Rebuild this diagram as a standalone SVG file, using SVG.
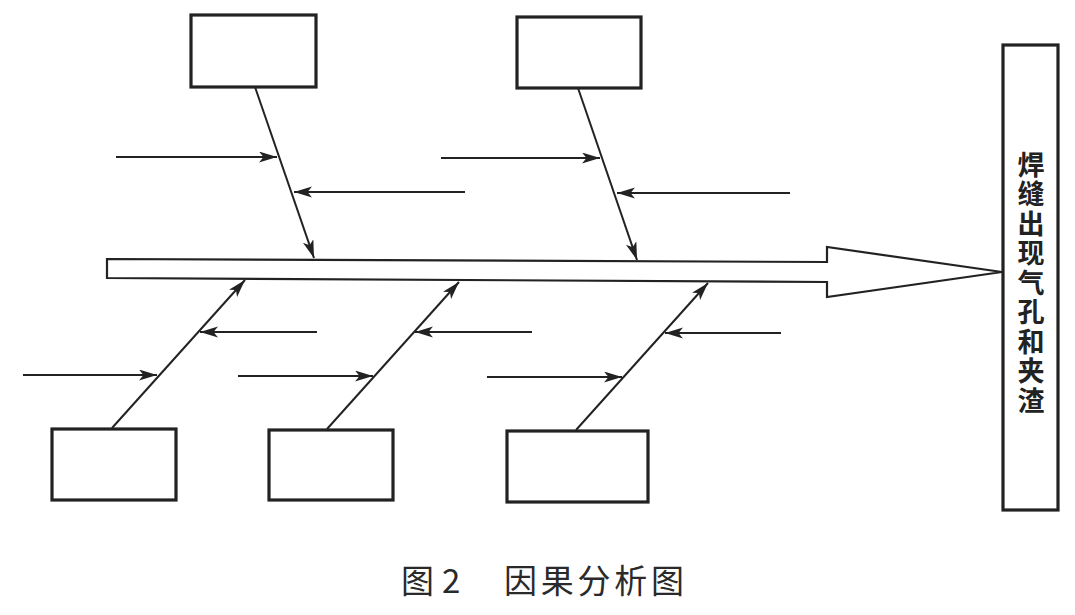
<svg xmlns="http://www.w3.org/2000/svg" width="1075" height="615" viewBox="0 0 1075 615">
<style>
.box{fill:#fff;stroke:#222;stroke-width:3.2}
.ln{stroke:#222;stroke-width:2;fill:none}
.big{fill:#fff;stroke:#222;stroke-width:2.2;stroke-linejoin:miter}
.vt{font-family:"Noto Sans CJK SC","Noto Sans CJK JP",sans-serif;font-size:27px;font-weight:600;fill:#222;writing-mode:vertical-rl;letter-spacing:2.5px}
.cap{font-family:"Noto Sans CJK SC","Liberation Serif",serif;font-size:33px;font-weight:400;fill:#2a2a2a}
</style>
<defs>
<marker id="ah" markerUnits="userSpaceOnUse" markerWidth="20" markerHeight="12" refX="18" refY="5.5" orient="auto">
<path d="M0,0 L18,5.5 L0,11 L4.5,5.5 z" fill="#222"/>
</marker>
</defs>
<rect width="1075" height="615" fill="#fff"/>
<g id="spine">
<polygon class="big" points="107,259 827,262 827,247 1002,272 827,297 827,282 107,278"/>
</g>
<g id="effect">
<rect class="box" x="1003" y="45" width="55" height="465"/>
<text class="vt" x="1031" y="151">焊缝出现气孔和夹渣</text>
</g>
<g id="cause1"><rect class="box" x="191" y="15" width="125" height="72"/></g>
<g id="cause2"><rect class="box" x="517" y="17" width="124" height="71"/></g>
<g id="cause3"><rect class="box" x="52" y="429" width="124" height="71"/></g>
<g id="cause4"><rect class="box" x="269" y="430" width="124" height="70"/></g>
<g id="cause5"><rect class="box" x="507" y="431" width="141" height="71"/></g>
<g id="connectors">
<line class="ln" x1="255" y1="87" x2="314" y2="258" marker-end="url(#ah)"/>
<line class="ln" x1="578" y1="88" x2="637" y2="260" marker-end="url(#ah)"/>
<line class="ln" x1="112" y1="428" x2="245" y2="280" marker-end="url(#ah)"/>
<line class="ln" x1="327" y1="429" x2="459" y2="282" marker-end="url(#ah)"/>
<line class="ln" x1="576" y1="430" x2="708" y2="283" marker-end="url(#ah)"/>
<line class="ln" x1="116" y1="157" x2="277" y2="157" marker-end="url(#ah)"/>
<line class="ln" x1="465" y1="192" x2="294" y2="192" marker-end="url(#ah)"/>
<line class="ln" x1="441" y1="158" x2="600" y2="158" marker-end="url(#ah)"/>
<line class="ln" x1="790" y1="193" x2="617" y2="193" marker-end="url(#ah)"/>
<line class="ln" x1="317" y1="332" x2="200" y2="332" marker-end="url(#ah)"/>
<line class="ln" x1="23" y1="375" x2="157" y2="375" marker-end="url(#ah)"/>
<line class="ln" x1="238" y1="376" x2="373" y2="376" marker-end="url(#ah)"/>
<line class="ln" x1="532" y1="332" x2="415" y2="332" marker-end="url(#ah)"/>
<line class="ln" x1="487" y1="377" x2="622" y2="377" marker-end="url(#ah)"/>
<line class="ln" x1="781" y1="333" x2="665" y2="333" marker-end="url(#ah)"/>
</g>
<g id="caption">
<text class="cap" x="401" y="593">图</text>
<text class="cap" x="442" y="593" font-family="Liberation Serif, serif">2</text>
<text class="cap" x="504" y="593" textLength="180" lengthAdjust="spacing">因果分析图</text>
</g>
</svg>
